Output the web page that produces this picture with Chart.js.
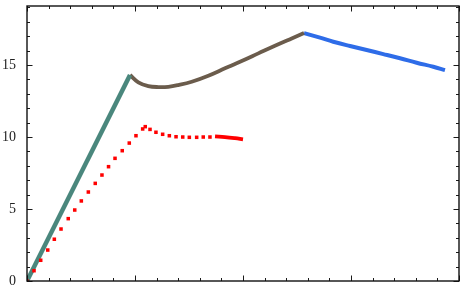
<!DOCTYPE html>
<html>
<head>
<meta charset="utf-8">
<script src="https://cdn.jsdelivr.net/npm/chart.js@4.4.1/dist/chart.umd.min.js"></script>
<style>
html,body{margin:0;padding:0;background:#fff;}
#wrap{width:466px;height:286px;position:relative;}
</style>
</head>
<body>
<div id="wrap"><canvas id="c"></canvas></div>
<script>
// ---- data ----
const greenX = [0, 0.954];
const greenY = [0, 14.31];

const brownX = [0.954, 1.031, 1.123, 1.216, 1.308, 1.401, 1.525, 1.679, 1.833, 1.988, 2.142, 2.296, 2.451, 2.565];
const brownY = [14.31, 13.80, 13.54, 13.47, 13.49, 13.61, 13.84, 14.26, 14.77, 15.28, 15.81, 16.34, 16.85, 17.22];

const blueX = [2.565, 2.713, 2.836, 2.991, 3.145, 3.299, 3.454, 3.608, 3.762, 3.870];
const blueY = [17.22, 16.90, 16.62, 16.32, 16.04, 15.76, 15.47, 15.16, 14.88, 14.65];

// red sampled markers
const redX = [0, 0.065, 0.127, 0.192, 0.253, 0.315, 0.382, 0.442, 0.503, 0.568, 0.632, 0.694, 0.755, 0.815, 0.882, 0.947, 1.009, 1.071, 1.095, 1.139, 1.194, 1.256, 1.318, 1.380, 1.442, 1.503, 1.571, 1.632, 1.694];
const redY = [0, 0.715, 1.44, 2.15, 2.90, 3.61, 4.33, 4.93, 5.56, 6.18, 6.78, 7.36, 7.94, 8.52, 9.05, 9.58, 10.09, 10.56, 10.72, 10.53, 10.33, 10.19, 10.09, 10.02, 10.0, 9.98, 9.98, 10.0, 10.0];
// red dense tail (drawn solid)
const redTailX = [1.741, 1.833, 1.926, 2.0];
const redTailY = [10.05, 10.0, 9.92, 9.84];

const yTickLabels = [0, 5, 10, 15];
const yMinorStep = 1;
const xMajorTicks = [0, 1, 2, 3, 4];
const xMinorStep = 0.2;
const xRange = [0, 4];
const yRange = [0, 19.1];

function pts(xs, ys){ return xs.map((x,i)=>({x:x, y:ys[i]})); }

const framePlugin = {
  id: 'frame',
  afterDatasetsDraw(chart){
    const ctx = chart.ctx, a = chart.chartArea;
    const xs = chart.scales.x, ys = chart.scales.y;
    ctx.save();
    ctx.strokeStyle = '#1a1a1a';
    ctx.lineWidth = 1;
    const xMinor = [];
    for (let v = xRange[0]; v <= xRange[1] + 1e-9; v += xMinorStep) xMinor.push(+v.toFixed(4));
    const yMinor = [];
    for (let v = yRange[0]; v <= yRange[1] + 1e-9; v += yMinorStep) yMinor.push(+v.toFixed(4));
    ctx.beginPath();
    xMinor.forEach(v=>{
      const p = Math.round(xs.getPixelForValue(v)) + 0.5;
      const major = xMajorTicks.some(m=>Math.abs(m-v)<1e-6);
      const L = major ? 5.5 : 3;
      ctx.moveTo(p, a.bottom); ctx.lineTo(p, a.bottom - L);
      ctx.moveTo(p, a.top); ctx.lineTo(p, a.top + L);
    });
    yMinor.forEach(v=>{
      const p = Math.round(ys.getPixelForValue(v)) + 0.5;
      const major = yTickLabels.some(m=>Math.abs(m-v)<1e-6);
      const L = major ? 5.5 : 3;
      ctx.moveTo(a.left, p); ctx.lineTo(a.left + L, p);
      ctx.moveTo(a.right, p); ctx.lineTo(a.right - L, p);
    });
    ctx.stroke();
    ctx.lineWidth = 1.4;
    ctx.strokeStyle = '#111';
    ctx.strokeRect(a.left, a.top, a.right - a.left, a.bottom - a.top);
    ctx.restore();
  }
};

new Chart(document.getElementById('c'), {
  type: 'line',
  data: {
    datasets: [
      { data: pts(redX, redY), showLine: false, pointStyle: 'rect', pointRadius: 2.5,
        pointBackgroundColor: '#ff0000', pointBorderWidth: 0, pointBorderColor: '#ff0000', borderColor: '#ff0000' },
      { data: pts(redTailX, redTailY), borderColor: '#ff0000', borderWidth: 3.8, pointRadius: 0, tension: 0.4, fill: false },
      { data: pts(greenX, greenY), borderColor: '#4a877d', borderWidth: 4.5, pointRadius: 0, tension: 0, fill: false },
      { data: pts(brownX, brownY), borderColor: '#6b5c4c', borderWidth: 3.8, pointRadius: 0, tension: 0.4, fill: false },
      { data: pts(blueX, blueY), borderColor: '#2e6ce8', borderWidth: 4, pointRadius: 0, tension: 0.4, fill: false }
    ]
  },
  options: {
    responsive: true,
    maintainAspectRatio: false,
    animation: false,
    devicePixelRatio: 1,
    layout: { padding: { top: 6, right: 7, bottom: 5, left: 0 } },
    plugins: { legend: { display: false }, tooltip: { enabled: false } },
    scales: {
      x: { type: 'linear', min: xRange[0], max: xRange[1], display: false },
      y: {
        type: 'linear', min: yRange[0], max: yRange[1],
        grid: { display: false, drawTicks: false },
        border: { display: false },
        afterBuildTicks: s => { s.ticks = yTickLabels.map(v => ({ value: v })); },
        afterFit: s => { s.width = 27; s.paddingTop = 0; s.paddingBottom = 0; },
        ticks: { padding: 11, color: '#222', font: { family: 'Liberation Serif', size: 14 },
                 callback: v => String(v) }
      }
    }
  },
  plugins: [framePlugin]
});
</script>
</body>
</html>
